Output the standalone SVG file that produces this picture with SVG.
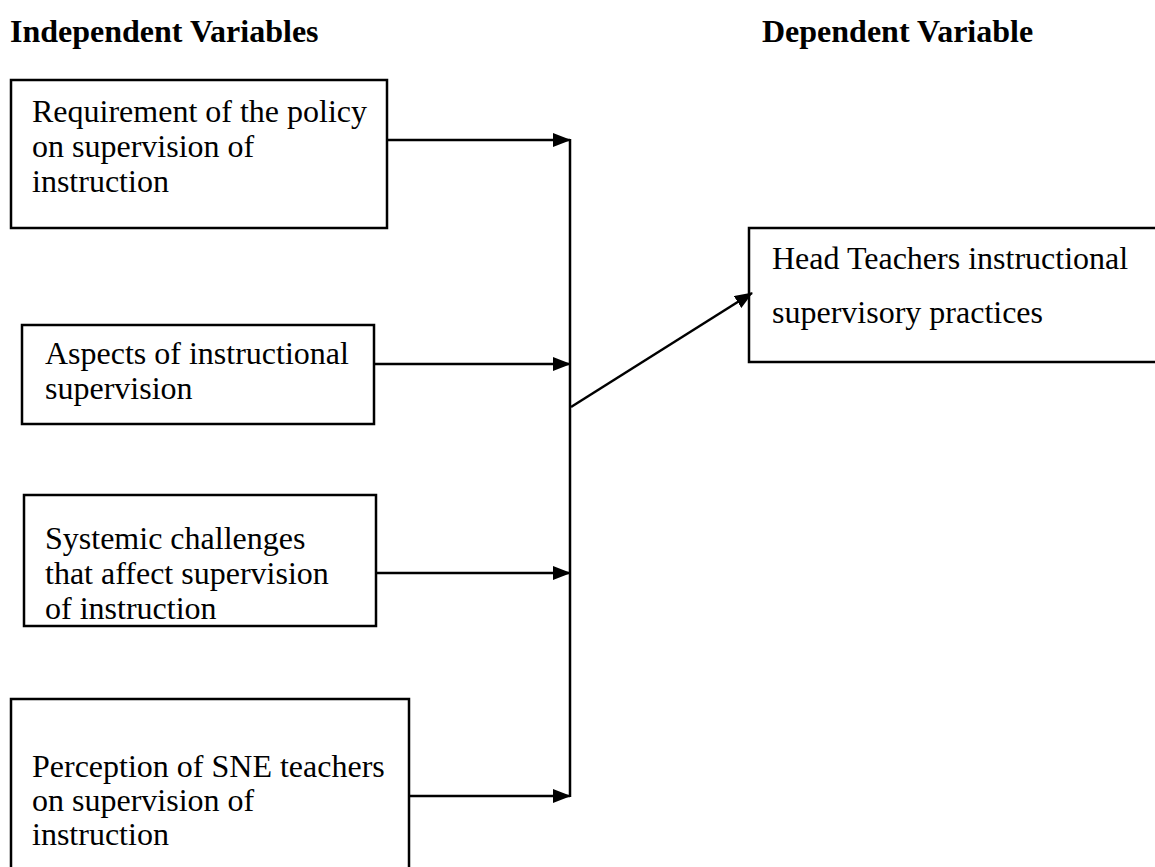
<svg xmlns="http://www.w3.org/2000/svg" width="1155" height="867" viewBox="0 0 1155 867">
<defs>
<style>
.t{font-family:"Liberation Serif","Times New Roman",serif;font-size:32px;fill:#000}
.h{font-family:"Liberation Serif","Times New Roman",serif;font-size:32px;font-weight:bold;fill:#000}
.b{fill:#fff;stroke:#000;stroke-width:2.5}
.c{fill:none;stroke:#000;stroke-width:2.5}
</style>
<marker id="ah" markerWidth="18" markerHeight="14" refX="17" refY="7" orient="auto" markerUnits="userSpaceOnUse">
<path d="M0,0 L18,7 L0,14 Z" fill="#000"/>
</marker>
</defs>
<rect width="1155" height="867" fill="#fff"/>
<g id="headers">
<text class="h" x="10" y="42">Independent Variables</text>
<text class="h" x="762" y="42">Dependent Variable</text>
</g>
<g id="n1">
<rect class="b" x="11" y="80" width="376" height="148"/>
<text class="t" x="32" y="122">Requirement of the policy</text>
<text class="t" x="32" y="157">on supervision of</text>
<text class="t" x="32" y="192">instruction</text>
</g>
<g id="n2">
<rect class="b" x="22" y="325" width="352" height="99"/>
<text class="t" x="45" y="364">Aspects of instructional</text>
<text class="t" x="45" y="399">supervision</text>
</g>
<g id="n3">
<rect class="b" x="24" y="495" width="352" height="131"/>
<text class="t" x="45" y="549">Systemic challenges</text>
<text class="t" x="45" y="584">that affect supervision</text>
<text class="t" x="45" y="619">of instruction</text>
</g>
<g id="n4">
<rect class="b" x="11" y="699" width="398" height="190"/>
<text class="t" x="32" y="777">Perception of SNE teachers</text>
<text class="t" x="32" y="811">on supervision of</text>
<text class="t" x="32" y="845">instruction</text>
</g>
<g id="n5">
<rect class="b" x="749" y="228" width="420" height="134"/>
<text class="t" x="772" y="269">Head Teachers instructional</text>
<text class="t" x="772" y="323">supervisory practices</text>
</g>
<g id="connectors">
<line class="c" x1="570" y1="139" x2="570" y2="797"/>
<line class="c" x1="387" y1="140" x2="570" y2="140" marker-end="url(#ah)"/>
<line class="c" x1="374" y1="364" x2="570" y2="364" marker-end="url(#ah)"/>
<line class="c" x1="376" y1="573" x2="570" y2="573" marker-end="url(#ah)"/>
<line class="c" x1="409" y1="796" x2="570" y2="796" marker-end="url(#ah)"/>
<line class="c" x1="571" y1="407" x2="752" y2="293" marker-end="url(#ah)"/>
</g>
</svg>
